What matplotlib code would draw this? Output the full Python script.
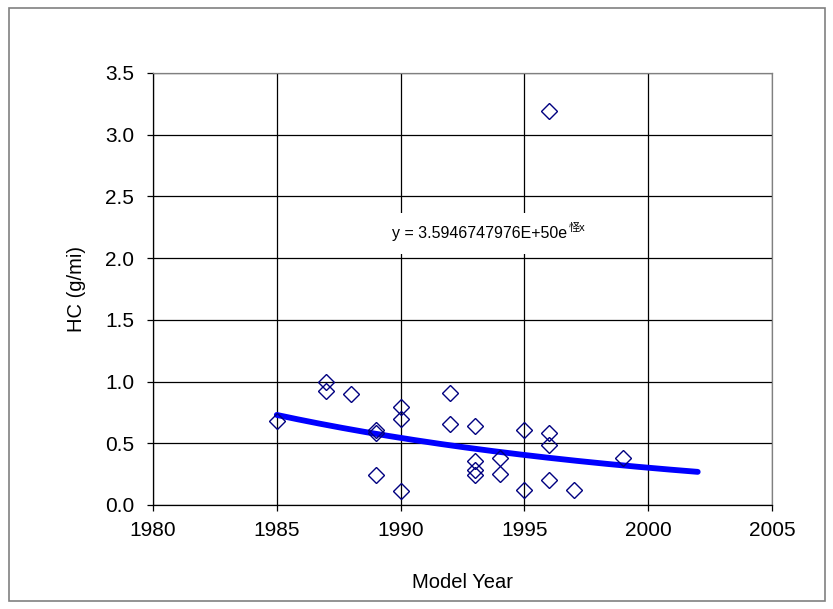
import numpy as np
import matplotlib
matplotlib.use("Agg")
import matplotlib.pyplot as plt
from matplotlib.patches import Rectangle

plt.rcParams['font.family'] = ['Liberation Sans', 'Noto Sans CJK SC', 'DejaVu Sans']

# data
model_year = [1985, 1987, 1987, 1988, 1989, 1989, 1989, 1990, 1990, 1990,
              1992, 1992, 1993, 1993, 1993, 1993, 1994, 1994, 1995, 1995,
              1996, 1996, 1996, 1996, 1997, 1999]
hc = [0.68, 1.00, 0.92, 0.90, 0.61, 0.58, 0.24, 0.79, 0.70, 0.11,
      0.91, 0.66, 0.64, 0.36, 0.28, 0.24, 0.38, 0.25, 0.61, 0.12,
      3.19, 0.58, 0.49, 0.20, 0.12, 0.38]

# exponential trendline y = a * exp(b * x)
trend_a = 3.5946747976e50
trend_b = -0.058803
trend_range = (1985, 2002)
equation = "y = 3.5946747976E+50e"
equation_exp = "怪x"

x_ticks = [1980, 1985, 1990, 1995, 2000, 2005]
y_ticks = [0.0, 0.5, 1.0, 1.5, 2.0, 2.5, 3.0, 3.5]

fig = plt.figure(figsize=(8.33, 6.09), dpi=100)
ax = fig.add_axes([153 / 833, 1 - 505 / 609, (772 - 153) / 833, (505 - 73) / 609])

# outer chart border
fig.patches.append(Rectangle((8.5 / 833, 8 / 609), (825 - 8.5) / 833, (601 - 8) / 609,
                             transform=fig.transFigure, fill=False,
                             edgecolor='#808080', linewidth=1.2))

ax.grid(True, color='black', linewidth=0.9)
ax.set_axisbelow(True)

tx = np.linspace(trend_range[0], trend_range[1], 200)
ty = trend_a * np.exp(trend_b * tx)
ax.plot(tx, ty, color='#0000FF', linewidth=4.2, solid_capstyle='round', zorder=3)

ax.plot(model_year, hc, linestyle='none', marker='D', markersize=8.5,
        markerfacecolor='none', markeredgecolor='#000080', markeredgewidth=1.0, zorder=4)

t1 = ax.text(1993.2, 2.2, equation, fontsize=11.5, ha='center', va='center',
             bbox=dict(boxstyle='square,pad=0.8', facecolor='white', edgecolor='none'),
             zorder=5)
ax.annotate(equation_exp, xy=(1, 1), xycoords=t1, xytext=(1, 2), textcoords='offset points',
            fontsize=8, ha='left', va='top', zorder=6,
            family=['Liberation Sans', 'Noto Sans CJK SC', 'DejaVu Sans'])

ax.set_xlim(1980, 2005)
ax.set_ylim(0, 3.5)
ax.set_xticks(x_ticks)
ax.set_yticks(y_ticks)
ax.set_yticklabels([f"{v:.1f}" for v in y_ticks])
ax.tick_params(axis='both', direction='out', length=4.5, width=0.9, labelsize=15, colors='black')
ax.tick_params(axis='y', pad=9)
ax.tick_params(axis='x', pad=7)

for side in ['top', 'right']:
    ax.spines[side].set_color('#808080')
for side in ['left', 'bottom']:
    ax.spines[side].set_color('black')
for s in ax.spines.values():
    s.set_linewidth(0.9)

ax.set_xlabel('Model Year', fontsize=14.5, labelpad=24)
ax.set_ylabel('HC (g/mi)', fontsize=14.5, labelpad=14)

fig.savefig('out.png', dpi=100)
